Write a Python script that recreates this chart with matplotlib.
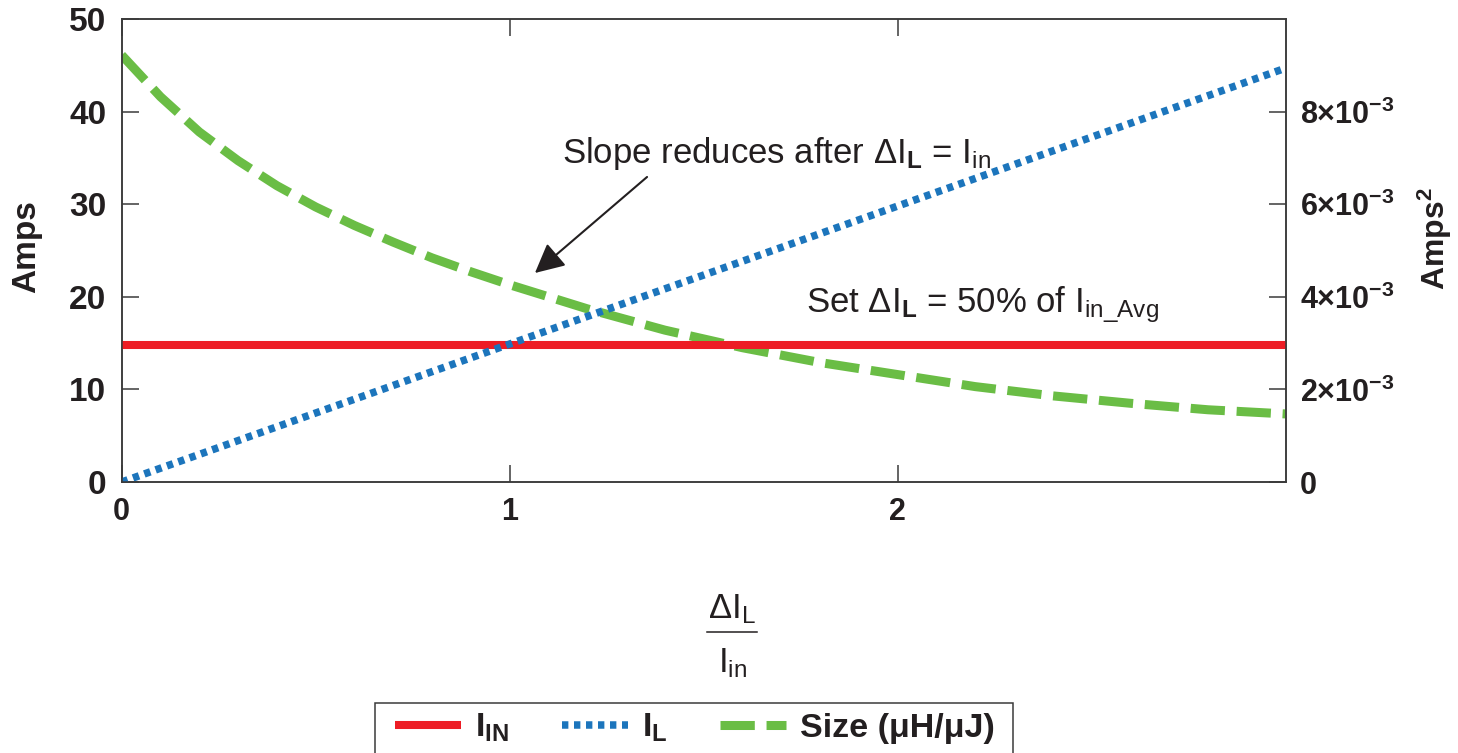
import numpy as np
import matplotlib
matplotlib.use("Agg")
import matplotlib.pyplot as plt
from matplotlib.ticker import FixedLocator, FuncFormatter
from matplotlib.patches import Rectangle
from matplotlib.lines import Line2D

plt.rcParams['font.family'] = ['Liberation Sans', 'DejaVu Sans']
plt.rcParams['font.weight'] = 'bold'
plt.rcParams['mathtext.fontset'] = 'custom'
plt.rcParams['mathtext.rm'] = 'Liberation Sans:weight=normal'
plt.rcParams['mathtext.it'] = 'Liberation Sans:italic:weight=normal'
plt.rcParams['mathtext.bf'] = 'Liberation Sans:bold'

# data (x = dIL / Iin)
ratio_ends = [0.0, 3.0]
i_in = [14.8, 14.8]
i_l = [0.0, 44.7]
size_ratio = [0.0, 0.1, 0.2, 0.3, 0.4, 0.5, 0.6, 0.7, 0.8, 0.9, 1.0,
              1.2, 1.4, 1.6, 1.8, 2.0, 2.2, 2.4, 2.6, 2.8, 3.0]
# size in units of 1e-3 Amps^2
size_milli = [9.22, 8.32, 7.56, 6.94, 6.40, 5.94, 5.54, 5.18, 4.84, 4.54, 4.26,
              3.74, 3.28, 2.90, 2.58, 2.32, 2.06, 1.86, 1.70, 1.56, 1.47]
size_vals = np.array(size_milli) * 1e-3

x_ticks = [0, 1, 2]
amps_ticks = [0, 10, 20, 30, 40, 50]
amps2_ticks = [0, 2e-3, 4e-3, 6e-3, 8e-3]

red = '#ed1c24'
blue = '#1c75bc'
green = '#6abd45'
frame = '#3a3a3a'
ink = '#231f20'

W, H = 1458, 753


def px(x, y):
    return x / W, 1 - y / H


fig = plt.figure(figsize=(W / 100, H / 100), dpi=100)
L, R, T, B = 121.7, 1285.7, 19, 482
ax = fig.add_axes([L / W, 1 - B / H, (R - L) / W, (B - T) / H])
ax2 = ax.twinx()
ax.set_zorder(ax2.get_zorder() + 1)
ax.patch.set_visible(False)

l_in, = ax.plot(ratio_ends, i_in, color=red, lw=5.8, solid_capstyle='butt')
l_l, = ax.plot(ratio_ends, i_l, color=blue, lw=5.4, linestyle=(0, (0.85, 0.75)))
l_s, = ax2.plot(size_ratio, size_vals, color=green, lw=6.5,
                linestyle=(0, (3.8, 1.3)))

ax.set_xlim(0, 3)
ax.set_ylim(0, 50)
ax2.set_ylim(0, 0.01)

ax.xaxis.set_major_locator(FixedLocator(x_ticks))
ax.yaxis.set_major_locator(FixedLocator(amps_ticks))
ax2.yaxis.set_major_locator(FixedLocator(amps2_ticks))


def amps2_fmt(v, pos):
    if v == 0:
        return '0'
    return r'$\mathregular{%d{\times}10^{-3}}$' % round(v * 1000)


ax2.yaxis.set_major_formatter(FuncFormatter(amps2_fmt))

for a in (ax, ax2):
    for s in a.spines.values():
        s.set_color(frame)
        s.set_linewidth(1.1)

ax.tick_params(axis='x', direction='in', length=12, width=1.1, color=frame,
               top=True, labelsize=22, pad=11, labelcolor=ink)
ax.tick_params(axis='y', direction='in', length=12, width=1.1, color=frame,
               labelsize=24, pad=11, labelcolor=ink)
ax2.tick_params(axis='y', direction='in', length=12, width=1.1, color=frame,
                labelsize=22, pad=10, labelcolor=ink)

ax.set_ylabel('Amps', fontsize=24, fontweight='bold', color=ink)
ax.yaxis.set_label_coords((42 - L) / (R - L), 0.509)
ax2.set_ylabel(r'Amps$^\mathregular{2}$', fontsize=23, fontweight='bold',
               color=ink)
ax2.yaxis.set_label_coords((1416 - L) / (R - L), 0.525)

# x axis label as a stacked fraction
fig.text(*px(732, 618), r'ΔI$_\mathregular{L}$', fontsize=25,
         fontweight='normal', ha='center', va='baseline', color=ink)
fig.add_artist(Line2D([707 / W, 757 / W], [1 - 632 / H, 1 - 632 / H],
                      color=ink, lw=1.1))
fig.text(*px(733, 672), r'I$_\mathregular{in}$', fontsize=25,
         fontweight='normal', ha='center', va='baseline', color=ink)

# annotations
ax.text(1.135, 34.45, r'Slope reduces after ΔI$_\mathbf{L}$ = I$_\mathregular{in}$',
        fontsize=25, fontweight='normal', ha='left', va='baseline', color=ink)
ax.annotate('', xy=(1.065, 22.57), xytext=(1.354, 32.94),
            arrowprops=dict(arrowstyle='-|>', color=ink, lw=1.5,
                            mutation_scale=45, shrinkA=0, shrinkB=0))
ax.text(1.764, 18.36, r'Set ΔI$_\mathbf{L}$ = 50% of I$_\mathregular{in\_Avg}$',
        fontsize=25, fontweight='normal', ha='left', va='baseline', color=ink)

# legend
fig.add_artist(Rectangle(px(375, 770), (1013 - 375) / W, (770 - 703) / H,
                         transform=fig.transFigure, facecolor='none',
                         edgecolor=frame, lw=1.1))
fig.legend([l_in, l_l, l_s],
           [r'I$_\mathregular{IN}$', r'I$_\mathregular{L}$', 'Size (μH/μJ)'],
           loc='center left', bbox_to_anchor=px(395, 728), ncol=3,
           frameon=False, borderpad=0, borderaxespad=0,
           handlelength=1.95, handletextpad=0.4, columnspacing=1.55,
           prop=dict(size=24.5, weight='bold'), labelcolor=ink)

fig.savefig('out.png', dpi=100)
